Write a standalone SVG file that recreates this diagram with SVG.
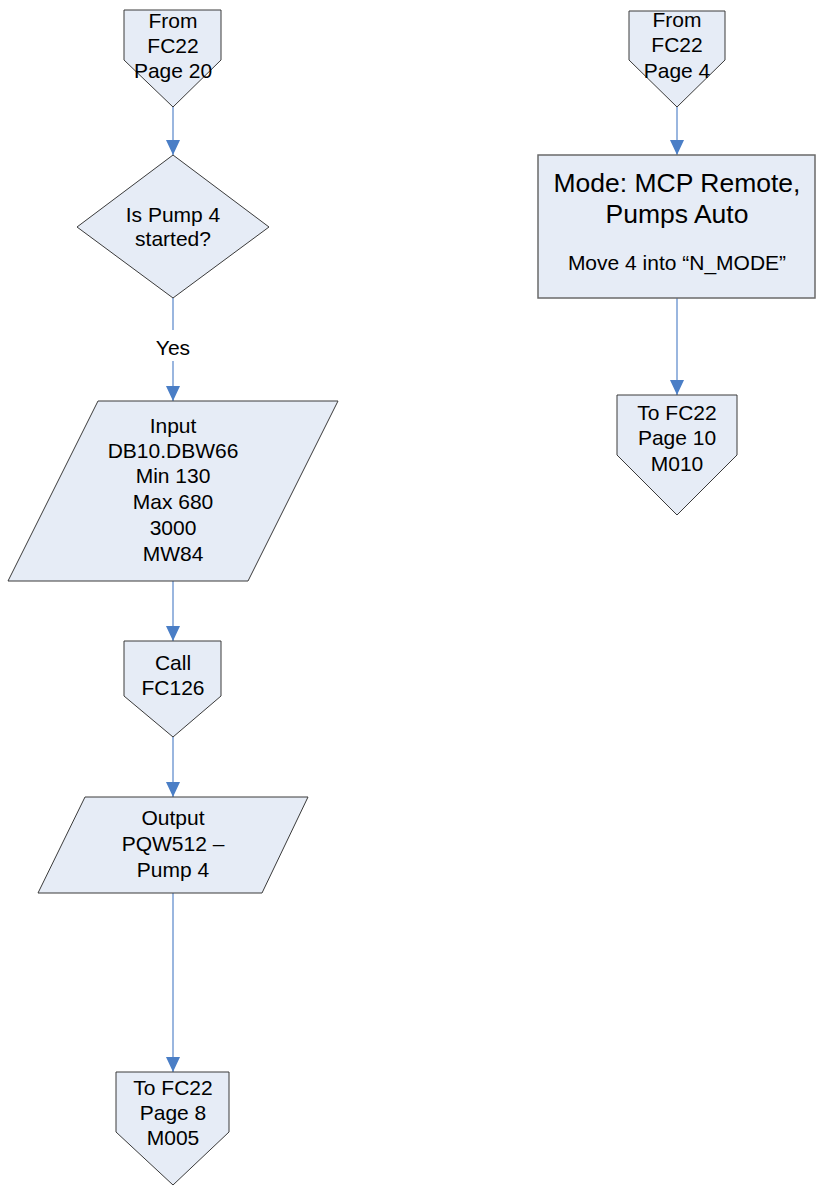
<svg xmlns="http://www.w3.org/2000/svg" width="824" height="1192" viewBox="0 0 824 1192">
  <style>
    .shape { fill: #E6ECF6; stroke: #3A3A3A; stroke-width: 1; }
    .box { fill: #E6ECF6; stroke: #6A6A6A; stroke-width: 1.5; }
    .lbl { font-family: "Liberation Sans", Arial, sans-serif; font-size: 21px; fill: #000; text-anchor: middle; }
    .big { font-size: 26.5px; }
    .flow { fill: none; stroke: #9AB6DF; stroke-width: 2; marker-end: url(#arrow); }
  </style>
  <defs>
    <marker id="arrow" markerUnits="userSpaceOnUse" markerWidth="15" markerHeight="14" viewBox="0 0 15 14" refX="15" refY="7" orient="auto">
      <path d="M0,0 L15,7 L0,14 Z" fill="#4A7EC6"/>
    </marker>
  </defs>
  <rect width="824" height="1192" fill="#FFFFFF"/>

  <!-- connectors -->
  <g id="connectors">
    <path class="flow" d="M173,107 V155"/>
    <path class="flow" d="M173,298 V330 M173,361 V401"/>
    <path class="flow" d="M173,581 V641"/>
    <path class="flow" d="M173,737 V797"/>
    <path class="flow" d="M173,893 V1072"/>
    <path class="flow" d="M677,107 V155"/>
    <path class="flow" d="M677,298 V395"/>
    <text class="lbl" x="173" y="355">Yes</text>
  </g>

  <!-- left column -->
  <g id="from-page-20">
    <polygon class="shape" points="124,10 221,10 221,60 173,107 124,60"/>
    <text class="lbl" x="173" y="28">From</text>
    <text class="lbl" x="173" y="53">FC22</text>
    <text class="lbl" x="173" y="78">Page 20</text>
  </g>

  <g id="pump4-started">
    <polygon class="shape" points="173,155 269,227 173,298 77,227"/>
    <text class="lbl" x="173" y="222">Is Pump 4</text>
    <text class="lbl" x="173" y="246">started?</text>
  </g>

  <g id="input">
    <polygon class="shape" points="98,401 338,401 248,581 8,581"/>
    <text class="lbl" x="173" y="433">Input</text>
    <text class="lbl" x="173" y="458">DB10.DBW66</text>
    <text class="lbl" x="173" y="483">Min 130</text>
    <text class="lbl" x="173" y="509">Max 680</text>
    <text class="lbl" x="173" y="535">3000</text>
    <text class="lbl" x="173" y="561">MW84</text>
  </g>

  <g id="call-fc126">
    <polygon class="shape" points="124,641 221,641 221,696 173,737 124,696"/>
    <text class="lbl" x="173" y="670">Call</text>
    <text class="lbl" x="173" y="695">FC126</text>
  </g>

  <g id="output">
    <polygon class="shape" points="85,797 308,797 262,893 38,893"/>
    <text class="lbl" x="173" y="825">Output</text>
    <text class="lbl" x="173" y="851">PQW512 –</text>
    <text class="lbl" x="173" y="877">Pump 4</text>
  </g>

  <g id="to-page-8">
    <polygon class="shape" points="116,1072 229,1072 229,1132 173,1185 116,1132"/>
    <text class="lbl" x="173" y="1095">To FC22</text>
    <text class="lbl" x="173" y="1120">Page 8</text>
    <text class="lbl" x="173" y="1145">M005</text>
  </g>

  <!-- right column -->
  <g id="from-page-4">
    <polygon class="shape" points="629,11 725,11 725,60 677,107 629,60"/>
    <text class="lbl" x="677" y="27">From</text>
    <text class="lbl" x="677" y="52">FC22</text>
    <text class="lbl" x="677" y="78">Page 4</text>
  </g>

  <g id="mode-remote">
    <rect class="box" x="538" y="155" width="277" height="143"/>
    <text class="lbl big" x="677" y="192">Mode: MCP Remote,</text>
    <text class="lbl big" x="677" y="223">Pumps Auto</text>
    <text class="lbl" x="677" y="270">Move 4 into “N_MODE”</text>
  </g>

  <g id="to-page-10">
    <polygon class="shape" points="617,395 737,395 737,455 677,515 617,455"/>
    <text class="lbl" x="677" y="420">To FC22</text>
    <text class="lbl" x="677" y="445">Page 10</text>
    <text class="lbl" x="677" y="471">M010</text>
  </g>
</svg>
